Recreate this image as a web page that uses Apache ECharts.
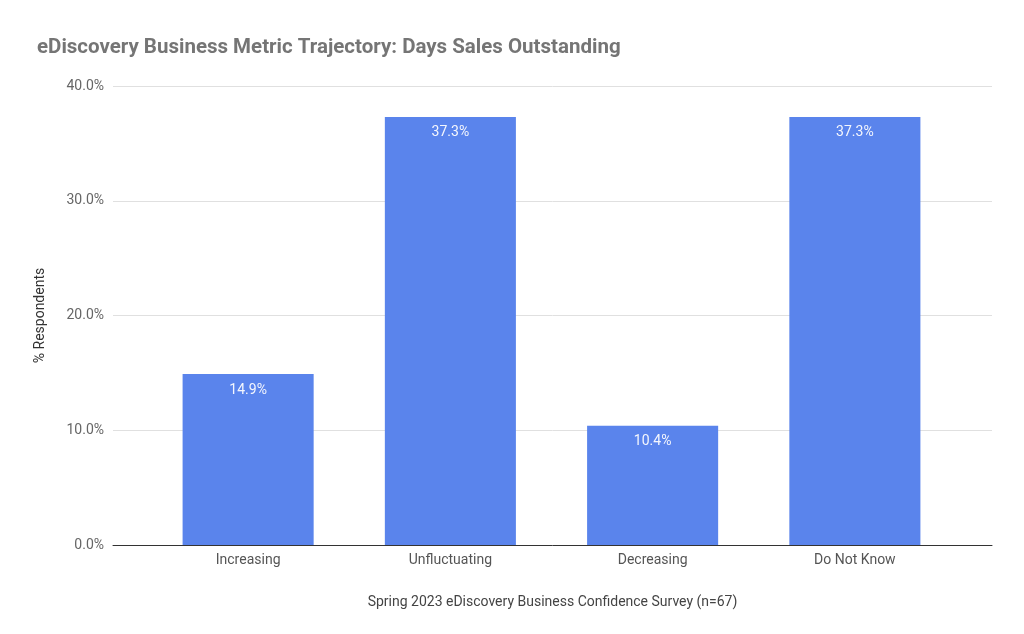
<!DOCTYPE html>
<html><head><meta charset="utf-8">
<script src="https://cdn.jsdelivr.net/npm/echarts@6/dist/echarts.min.js"></script>
<style>html,body{margin:0;padding:0;background:#fff}#c{width:1024px;height:634px}</style>
</head><body><div id="c"></div>
<script>
const categories = ["Increasing", "Unfluctuating", "Decreasing", "Do Not Know"];
const values = [14.9, 37.3, 10.4, 37.3];
const yTicks = [0, 10, 20, 30, 40];

const yMin = yTicks[0], yMax = yTicks[yTicks.length - 1];
const chart = echarts.init(document.getElementById('c'), null, {renderer: 'canvas'});
chart.setOption({
  animation: false,
  backgroundColor: '#ffffff',
  textStyle: {fontFamily: 'Roboto'},
  title: {
    text: 'eDiscovery Business Metric Trajectory: Days Sales Outstanding',
    left: 32, top: 32,
    textStyle: {fontFamily: 'Roboto', fontSize: 20.5, fontWeight: 'bold', color: '#757575'}
  },
  grid: [
    {left: 113, right: 32, top: 86, bottom: 89, containLabel: false},
    {left: 147, right: 68, top: 86, bottom: 89, containLabel: false}
  ],
  xAxis: [{
    gridIndex: 0,
    type: 'value', min: 0, max: 1,
    name: 'Spring 2023 eDiscovery Business Confidence Survey (n=67)',
    nameLocation: 'middle',
    nameGap: 50,
    nameTextStyle: {fontFamily: 'Roboto', fontSize: 14, color: '#444'},
    axisLine: {show: true, onZero: false, lineStyle: {color: '#333', width: 1}},
    axisTick: {show: false},
    axisLabel: {show: false},
    splitLine: {show: false}
  }, {
    gridIndex: 1,
    type: 'category',
    data: categories,
    axisLine: {show: false},
    axisTick: {show: false},
    axisLabel: {fontFamily: 'Roboto', fontSize: 14, color: '#555', margin: 8}
  }],
  yAxis: [{
    gridIndex: 0,
    type: 'value',
    min: yMin, max: yMax, interval: 10,
    name: '% Respondents',
    nameLocation: 'middle',
    nameGap: 66,
    nameTextStyle: {fontFamily: 'Roboto', fontSize: 14, color: '#333'},
    axisLine: {show: false},
    axisTick: {show: false},
    axisLabel: {fontFamily: 'Roboto', fontSize: 14, color: '#666', margin: 9,
      formatter: v => v.toFixed(1) + '%'},
    splitLine: {lineStyle: {color: '#e0e0e0', width: 1}}
  }, {
    gridIndex: 1,
    type: 'value',
    min: yMin, max: yMax, interval: 10,
    show: false,
    splitLine: {show: false}
  }],
  series: [{
    type: 'bar',
    xAxisIndex: 1, yAxisIndex: 1,
    data: values,
    barWidth: '64.8%',
    itemStyle: {color: '#5a84ec'},
    label: {
      show: true, position: 'insideTop', distance: 9,
      fontFamily: 'Roboto', fontSize: 14, color: '#f4f6fd',
      formatter: p => p.value.toFixed(1) + '%'
    }
  }]
});
</script></body></html>
